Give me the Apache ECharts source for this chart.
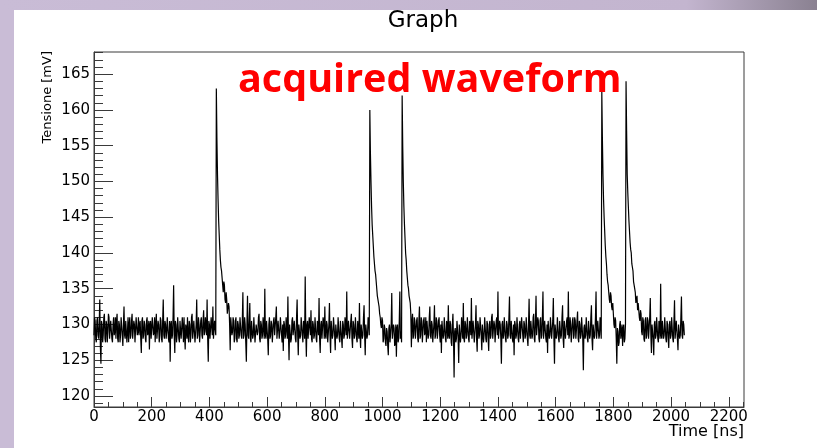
<!DOCTYPE html>
<html lang="en">
<head>
<meta charset="UTF-8">
<title>Graph</title>
<script src="https://cdn.jsdelivr.net/npm/echarts@6/dist/echarts.min.js"></script>
<style>
html, body { margin: 0; padding: 0; background: #fff; }
#main { width: 817px; height: 448px; }
</style>
</head>
<body>
<div id="main"></div>
<script>
// sample period of the stored waveform (ns)
const dt = 2;

// Tensione [mV], 2 ns per value
const segA = [
  128.5, 131, 130.5, 128, 127.5, 130.5, 131, 128.5, 128, 130, 133.5, 127, 124.5, 130.5, 130, 127.5,
  128.5, 131, 131.5, 128, 127.5, 130.5, 130, 127.5, 129, 131.5, 131, 128, 128, 130.5, 130.5, 128,
  127.5, 130, 131, 128.5, 129, 131, 128, 130.5, 131.5, 128, 127.5, 130.5, 130, 127.5, 128.5, 131,
  131, 128.5, 127, 130, 132.5, 128.5, 128, 130.5, 130.5, 127.5, 129, 131, 127.5, 130, 131, 128,
  128.5, 130.5, 131.5, 128, 128, 130.5, 130, 127.5, 127.5, 131, 131, 128.5, 129, 131, 128.5, 130,
  130.5, 128, 126, 130.5, 131, 128, 128.5, 130.5, 130, 128, 127.5, 130.5, 131, 128.5, 129, 130.5,
  126.5, 130, 130.5, 128, 128, 131, 131, 128.5, 129, 131, 127.5, 130, 131.5, 128, 128, 130.5,
  130, 127.5, 128.5, 131, 130.5, 128, 127.5, 130.5, 133.5, 128.5, 128, 130.5, 130, 128, 129, 131,
  131, 128, 127.5, 130.5, 124.8, 130, 130.5, 128, 128.5, 131, 135.5, 128.5, 126, 130.5, 130, 127.5,
  128.5, 131, 131, 128, 127.5, 130.5, 130.5, 128, 128, 131, 129.5, 127.5, 131, 128.5, 126.5, 130,
  129.5, 128, 131, 128.5, 127.5, 130.5, 130, 127.5, 128.5, 131, 131.5, 128, 128, 130.5, 130.5, 127.5,
  127.5, 130, 133.5, 128, 128.5, 131, 130, 127.5, 127.5, 130.5, 131, 128.5, 128, 130.5, 132, 128.5,
  129, 131, 131, 128.5, 133.5, 128, 124.8, 130.5, 130, 128, 128, 131, 131, 128.5, 132.5, 128,
  128, 130.5, 129.5, 128.5, 163, 156, 151, 147.5, 144.5, 142.5, 140.5, 139, 138, 137.5, 136.5, 135.5,
  134.5, 136, 135.5, 133.5, 133, 134.5, 133.5, 131.5, 131.5, 133, 132.5, 130, 126.4, 131, 131, 128.5,
  129, 131, 130.5, 127.5, 128, 130.5, 131, 128, 127.5, 130.5, 130, 128, 128.5, 131, 131, 128.5
];
const segB = [
  128, 130.5, 134.5, 128, 128.5, 131, 130, 127.5, 124.8, 130, 134, 128.5, 128, 130.5, 133, 128,
  127.5, 130.5, 130.5, 128, 128.5, 131, 131, 127.5, 127.5, 130, 130, 128.5, 129, 131, 131.5, 128,
  127.5, 130.5, 130, 128, 128.5, 131, 131, 128, 135, 128.5, 128, 130.5, 130.5, 128, 125.7, 130,
  131, 128, 128.5, 130.5, 130, 127.5, 127.5, 130.5, 131, 128.5, 128.5, 131, 132.5, 128, 128, 130.5,
  130.5, 128, 129, 131, 131, 128.5, 127.5, 130, 126.3, 130.5, 130, 128, 128.5, 131, 131, 128,
  133.9, 128.5, 125, 130, 130, 127.5, 128, 130.5, 131, 128.5, 128.5, 130.5, 130.5, 128, 127.5, 131,
  133.5, 128.5, 125.7, 130, 130, 128, 128.5, 131, 131, 128.5, 127.5, 130.5, 130, 128, 136.7, 129,
  125.5, 130, 130.5, 128, 128, 131, 131, 128.5, 132, 128, 127.5, 130.5, 130, 128, 128.5, 131,
  131, 128, 127.5, 130.5, 130, 128.5, 133.7, 128, 126, 130, 130.5, 128, 128, 131, 130.5, 128,
  132.5, 128.5, 128, 130.5, 130, 127.5, 127.5, 130, 133, 128.5, 126, 130.5, 130.5, 128, 128.5, 131,
  131, 128.5, 126.4, 130, 130, 128, 128.5, 131, 131, 128, 127.5, 130.5, 130.5, 128, 126.7, 130.5,
  130, 128, 128.5, 131, 131, 128.5, 134.6, 128, 128, 130.5, 130.5, 128, 128, 130.5, 131.5, 128,
  126.7, 130.5, 130, 128, 128.5, 131, 131, 128, 127.5, 130.5, 130.5, 128, 133, 128.5, 126.7, 130,
  130, 128, 128.5, 131, 132.7, 128.5, 125.7, 130, 130, 128, 128.5, 131, 130.5, 128.5, 160, 154,
  150, 146.5, 144, 142.5, 141, 139.5, 138.5, 137.5, 137, 136, 135, 134, 133.5, 133, 132.5, 131.5,
  131, 130, 129.5, 131, 130.5, 127.5, 128, 130, 129.5, 127.5, 127, 129.5, 129, 127, 125.7, 129.5
];
const segC = [
  130, 127.5, 127.5, 130, 134.4, 128, 128, 130, 129.5, 127, 127.5, 130, 125.5, 129.5, 130, 127.5,
  128, 130.5, 134.6, 128, 129, 127.5, 162, 155, 150, 146.5, 144, 142, 140, 139, 137.5, 136.5,
  135.5, 135, 134, 133.5, 133, 131.5, 126.8, 130.5, 131.5, 128, 128.5, 131, 130.5, 128, 128, 130.5,
  131, 128, 127.5, 130.5, 132.5, 128, 128.5, 131, 130.5, 127.5, 127.5, 130.5, 131, 128.5, 129, 131,
  127.5, 130.5, 130.5, 128, 128.5, 131, 132.5, 128.5, 128, 130.5, 130, 127.5, 127.5, 130, 132.7, 128,
  128.5, 131, 130.5, 128, 128, 130.5, 131, 128.5, 127.5, 130, 126, 130.5, 130.5, 128, 128.5, 131,
  131, 128, 127.5, 130.5, 130, 128, 132.7, 128.5, 128, 130.5, 130, 127.5, 127, 130, 131.5, 128,
  122.6, 129, 129.5, 127.5, 128, 130.5, 130.5, 128, 124.6, 130, 130, 127.5, 128.5, 131, 131, 128,
  133, 128, 127.5, 130.5, 130, 128, 128.5, 131, 131, 128, 127.5, 130.5, 130, 128.5, 133.7, 128,
  128, 130.5, 130.5, 127.5, 127.5, 130, 132.7, 128, 126.2, 130.5, 130, 128, 128.5, 131, 131, 128.5,
  126.4, 130, 130, 127.5, 128.5, 131, 131, 128, 127.5, 130.5, 130, 128, 126.3, 130, 130.5, 128,
  128.5, 131, 131.5, 128, 128, 130.5, 130, 127.5, 127.5, 130.5, 131, 128.5, 134.6, 128, 128, 130.5,
  130, 128, 124.5, 130, 130.5, 128, 128.5, 131, 131, 128, 127.5, 130.5, 130, 128, 128.5, 131,
  133.9, 128.5, 128, 130.5, 130.5, 128, 127.5, 130, 125.7, 130.5, 130, 128, 128.5, 131, 131, 128,
  127.5, 130, 130.5, 128, 128, 131, 131, 128.5, 127.5, 130.5, 130, 128, 128.5, 131, 131, 128,
  127, 130, 133.6, 128.5, 128, 130.5, 130.5, 128, 128.5, 131, 131.5, 128, 127.5, 130.5, 134, 128.5
];
const segD = [
  128.5, 131, 130.5, 128, 127.5, 130.5, 131, 128, 128.5, 131, 134.6, 128, 128, 130.5, 130.5, 128,
  127.5, 130, 126, 130.5, 130.5, 128, 128.5, 131, 131, 128, 128, 130.5, 133.7, 128, 124.5, 130,
  130, 128, 128.5, 131, 131, 128, 127.5, 130.5, 130.5, 128, 128.5, 131, 132.7, 128, 126.7, 130.5,
  130.5, 128, 128, 130.5, 131, 128.5, 134.6, 128, 128.5, 131, 130, 127.5, 127.5, 130.5, 131, 128,
  128.5, 131, 130.5, 128, 128, 130.5, 131.8, 128, 127.5, 130.5, 130, 128, 128.5, 131, 131, 128,
  123.6, 129.5, 130, 128, 128.5, 131, 131, 128, 127.5, 130.5, 130.5, 128, 128.5, 131, 132.7, 128,
  126.4, 130, 130, 128, 128.5, 131, 134.6, 128, 128, 130.5, 130.5, 128, 128.5, 131, 130, 128,
  162.5, 156, 151, 147.5, 145, 143, 141, 139.5, 138.5, 137, 136, 135.5, 134.5, 133.5, 133, 134.5,
  134, 132.5, 132, 133, 131.5, 130, 129.5, 131, 130.5, 128, 124.5, 129.5, 129, 127, 127.5, 130,
  130.5, 128, 128, 130, 127, 129.5, 130, 127.5, 128, 130, 164, 157, 151, 148.5, 146.5, 144.5,
  143, 141.5, 140.5, 140, 138.5, 138, 137.5, 136, 135.5, 135, 134.5, 133, 133.5, 134, 132, 133,
  133, 131, 130.5, 132, 131.5, 129, 128.5, 131, 130.5, 128, 127.6, 130.5, 131, 128, 128.5, 131,
  130.5, 128, 128, 131, 133.7, 128.5, 126, 130, 130, 128, 125.7, 130, 130.5, 128, 128.5, 131,
  131, 128, 127.5, 130.5, 130, 128, 135.7, 128.5, 128, 130.5, 130.5, 128, 128.5, 131, 131, 128,
  127.5, 130.5, 130, 128, 126.7, 130, 130.5, 128, 128.5, 131, 131, 128, 127.5, 130.5, 133.4, 128,
  128, 130.5, 130.5, 128, 126.4, 130, 130, 128, 128.5, 131, 133.9, 128.5, 128, 130.5, 130, 128.5
];

// axis ranges and labelled ticks
const xMax = 2252.8;
const yMin = 118.46;
const yMax = 168.1;
const xMajor = [0, 200, 400, 600, 800, 1000, 1200, 1400, 1600, 1800, 2000, 2200];
const yMajor = [120, 125, 130, 135, 140, 145, 150, 155, 160, 165];

const xMinor = [];
for (let t = 50; t < xMax; t += 50) if (t % 200) xMinor.push(t);
const yMinor = [];
for (let v = 119; v < yMax; v++) if (v % 5) yMinor.push(v);

const wave = segA.concat(segB, segC, segD);
const points = wave.map((v, i) => [i * dt, v]);

const frame = '#3a3a3a';
const lbl = { fontFamily: 'DejaVu Sans', fontSize: 15, color: '#000', formatter: v => String(v) };

let chartDom = document.getElementById('main');
let myChart = echarts.init(chartDom, null, { renderer: 'canvas' });
let option = {
  animation: false,
  backgroundColor: '#fff',
  grid: {
    left: 94, top: 52, width: 650, height: 355,
    show: true, borderColor: frame, borderWidth: 1,
    containLabel: false, outerBoundsMode: 'none'
  },
  xAxis: [
    {
      type: 'value', min: 0, max: xMax,
      axisLine: { show: true, lineStyle: { color: frame, width: 1 } },
      axisTick: { show: true, inside: true, length: 10, customValues: xMajor, lineStyle: { color: frame } },
      axisLabel: Object.assign({ customValues: xMajor, margin: 3 }, lbl),
      splitLine: { show: false }
    },
    {
      type: 'value', min: 0, max: xMax, position: 'bottom',
      axisLine: { show: false },
      axisTick: { show: true, inside: true, length: 5, customValues: xMinor, lineStyle: { color: frame } },
      axisLabel: { show: false },
      splitLine: { show: false }
    }
  ],
  yAxis: [
    {
      type: 'value', min: yMin, max: yMax,
      axisLine: { show: true, lineStyle: { color: frame, width: 1 } },
      axisTick: { show: true, inside: true, length: 19, customValues: yMajor, lineStyle: { color: frame } },
      axisLabel: Object.assign({ customValues: yMajor, margin: 4 }, lbl),
      splitLine: { show: false }
    },
    {
      type: 'value', min: yMin, max: yMax, position: 'left',
      axisLine: { show: false },
      axisTick: { show: true, inside: true, length: 9, customValues: yMinor, lineStyle: { color: frame } },
      axisLabel: { show: false },
      splitLine: { show: false }
    }
  ],
  series: [
    {
      type: 'line',
      data: points,
      xAxisIndex: 0, yAxisIndex: 0,
      showSymbol: false,
      symbol: 'none',
      sampling: null,
      silent: true,
      lineStyle: { color: '#000', width: 1.2 }
    }
  ],
  graphic: [
    // slide decoration round the picture
    { type: 'rect', shape: { x: 0, y: 0, width: 14, height: 448 }, style: { fill: '#c9bcd6' }, silent: true },
    {
      type: 'rect', shape: { x: 0, y: 0, width: 817, height: 10 }, silent: true,
      style: {
        fill: new echarts.graphic.LinearGradient(0, 0, 1, 0, [
          { offset: 0, color: '#c9bcd6' },
          { offset: 0.84, color: '#c3b5cf' },
          { offset: 1, color: '#8a8191' }
        ])
      }
    },
    { type: 'text', x: 423, y: 21, silent: true,
      style: { text: 'Graph', fill: '#000', font: '23px "DejaVu Sans"', align: 'center', verticalAlign: 'middle' } },
    { type: 'text', x: 238, y: 81, silent: true,
      style: { text: 'acquired waveform', fill: '#ff0000', font: 'bold 39.5px "Open Sans"', align: 'left', verticalAlign: 'middle' } },
    { type: 'text', x: 48, y: 51, rotation: Math.PI / 2, silent: true,
      style: { text: 'Tensione [mV]', fill: '#000', font: '13px "DejaVu Sans"', align: 'right', verticalAlign: 'middle' } },
    { type: 'text', x: 744, y: 432, silent: true,
      style: { text: 'Time [ns]', fill: '#000', font: '16px "DejaVu Sans"', align: 'right', verticalAlign: 'middle' } }
  ]
};
option && myChart.setOption(option);
</script>
</body>
</html>
